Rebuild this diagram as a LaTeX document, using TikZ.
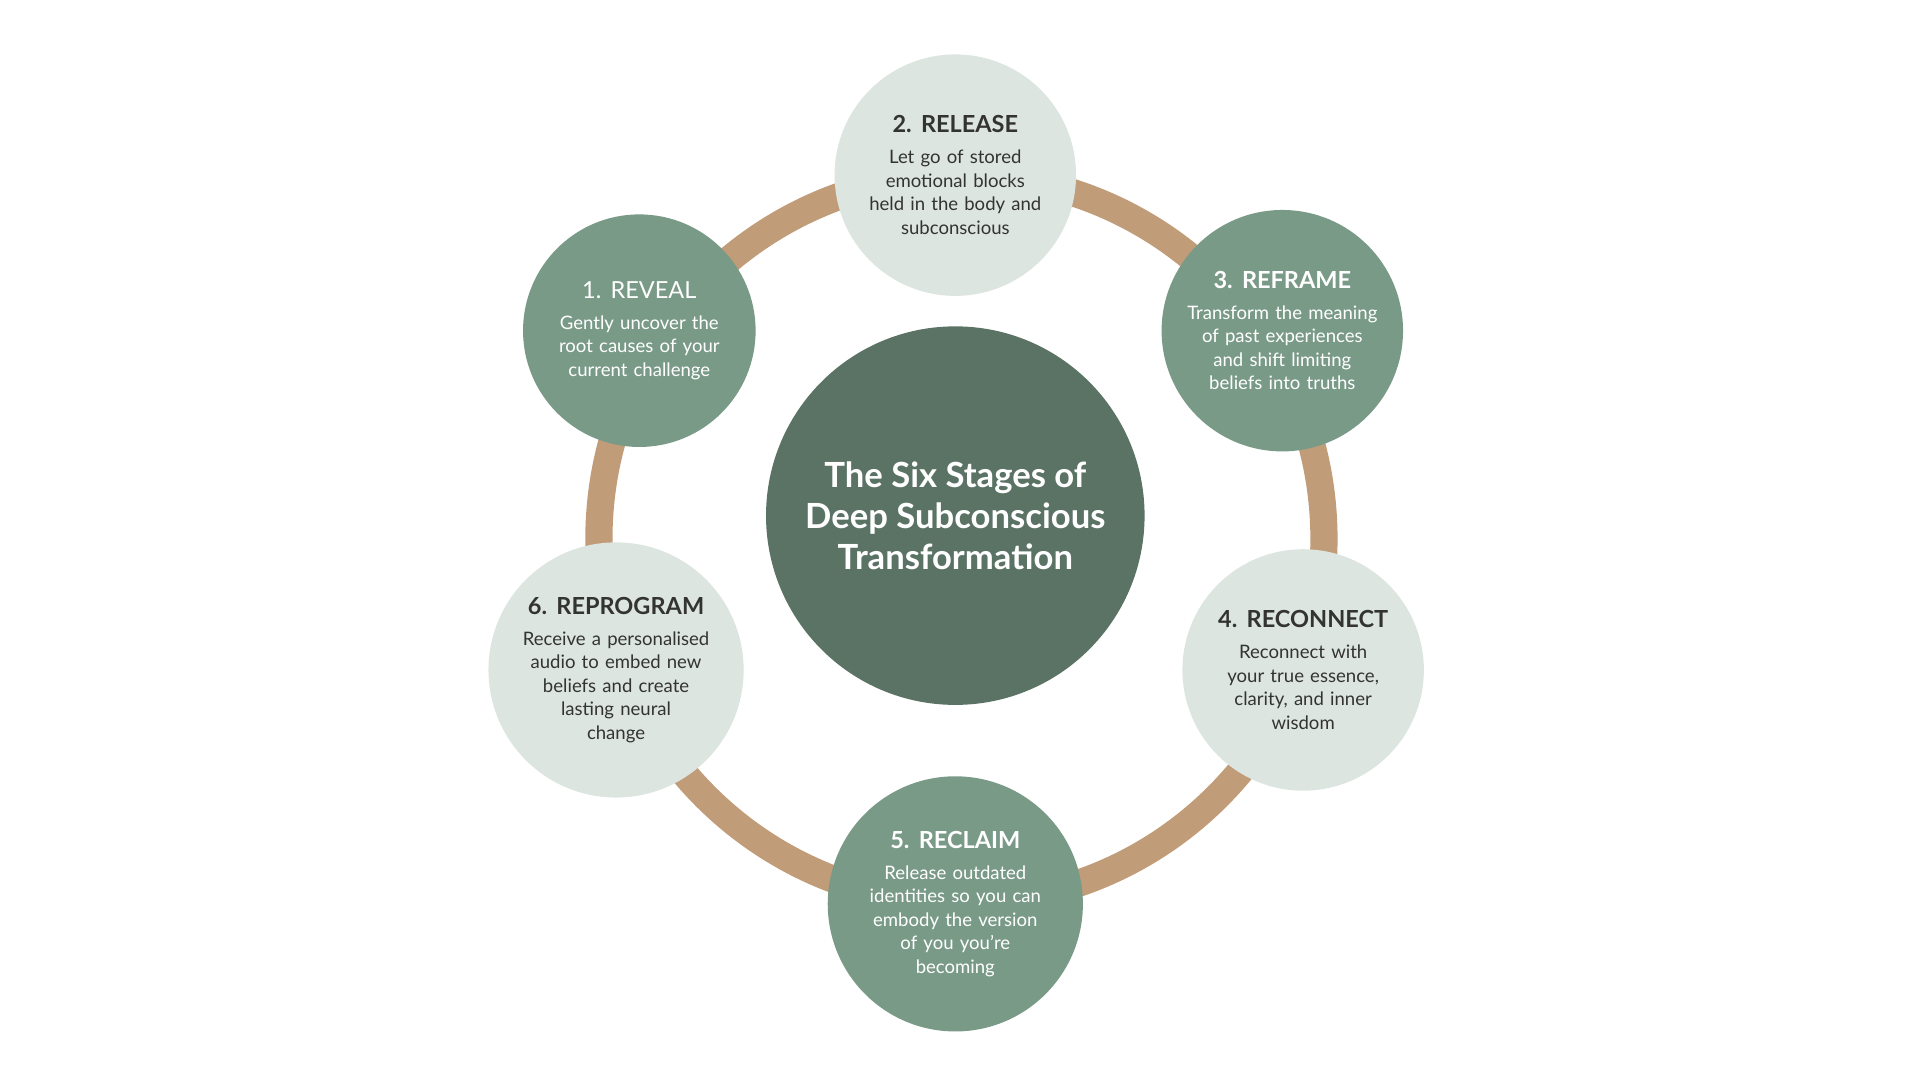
\documentclass[tikz,border=0pt]{standalone}
\usepackage{fontspec}
\setmainfont{Lato}
\definecolor{ring}{HTML}{C19C78}
\definecolor{dk}{HTML}{5B7365}
\definecolor{md}{HTML}{7A9A88}
\definecolor{lt}{HTML}{DCE5DF}
\definecolor{tx}{HTML}{333333}
\begin{document}
\begin{tikzpicture}[x=1pt,y=-1pt,
 stage/.style={circle,minimum size=188pt,inner sep=0pt,align=center,text width=170pt,font=\fontsize{15}{19}\selectfont},
 darkst/.style={stage,fill=md,text=white},
 lightst/.style={stage,fill=lt,text=tx},
 hd/.style={font=\fontsize{19}{24}\selectfont\bfseries}]
\fill[white] (0,0) rectangle (1552,873);
\begin{scope}[x=0.99pt,y=-0.99pt]
\draw[ring,line width=22pt] (785,440) ellipse (296 and 297);
\node[circle,fill=dk,minimum size=306pt,text=white,align=center,font=\fontsize{28}{33}\selectfont\bfseries] (c) at (780,421) {The Six Stages of\\Deep Subconscious\\Transformation};
\node[darkst] (s1) at (522,270) {{\fontsize{19}{24}\selectfont 1. REVEAL}\\[6pt]Gently uncover the\\root causes of your\\current challenge};
\node[lightst] (s2) at (780,143) {{\fontsize{19}{24}\selectfont\bfseries 2. RELEASE}\\[6pt]Let go of stored\\emotional blocks\\held in the body and\\subconscious};
\node[darkst] (s3) at (1047,270) {{\fontsize{19}{24}\selectfont\bfseries 3. REFRAME}\\[6pt]Transform the meaning\\of past experiences\\and shift limiting\\beliefs into truths};
\node[lightst] (s4) at (1064,547) {{\fontsize{19}{24}\selectfont\bfseries 4. RECONNECT}\\[6pt]Reconnect with\\your true essence,\\clarity, and inner\\wisdom};
\node[darkst] (s5) at (780,738) {{\fontsize{19}{24}\selectfont\bfseries 5. RECLAIM}\\[6pt]Release outdated\\identities so you can\\embody the version\\of you you’re\\becoming};
\node[lightst] (s6) at (503,547) {{\fontsize{19}{24}\selectfont\bfseries 6. REPROGRAM}\\[6pt]Receive a personalised\\audio to embed new\\beliefs and create\\lasting neural\\change};
\end{scope}
\end{tikzpicture}
\end{document}
